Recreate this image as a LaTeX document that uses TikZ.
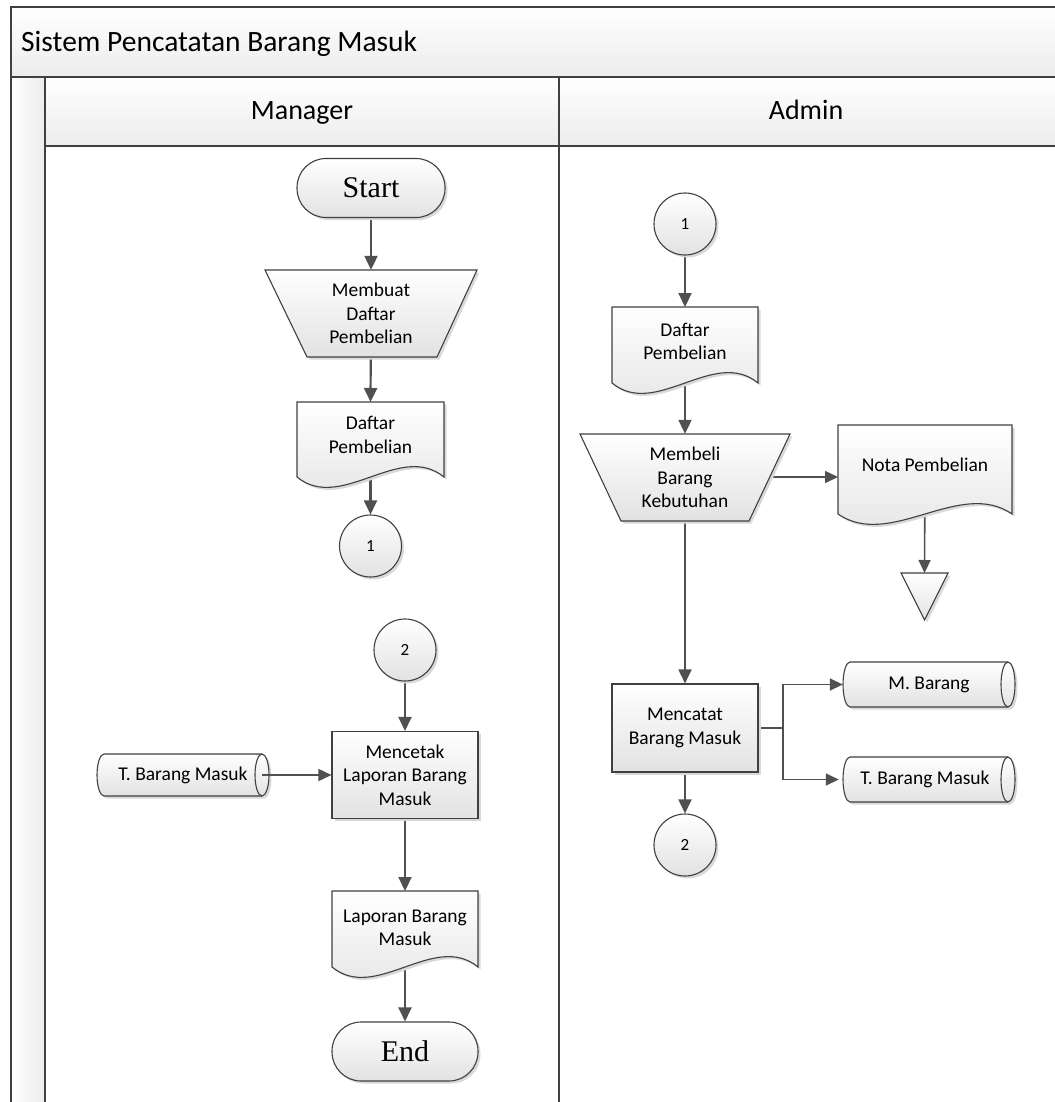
\documentclass[tikz,border=0pt]{standalone}
\usepackage{fontspec}
\setmainfont{Carlito}
\newfontfamily\termfont{Liberation Serif}
\usetikzlibrary{arrows.meta,calc,shadows}
\definecolor{lnc}{RGB}{64,64,64}
\definecolor{arc}{RGB}{80,80,80}
\definecolor{shd}{RGB}{226,226,226}
\definecolor{bandc}{RGB}{236,236,236}
\pgfdeclarelayer{poollayer}
\pgfdeclarelayer{edgelayer}
\pgfsetlayers{poollayer,edgelayer,main}
\tikzset{
  lbl/.style={font=\fontsize{19.5}{23.5}\selectfont, align=center, inner sep=0pt, text=black},
  outl/.style={draw=lnc, line width=1.1pt, top color=white, bottom color=shd,
     drop shadow={shadow xshift=2.5pt, shadow yshift=-2.5pt, fill=black!15, opacity=1}},
  flow/.style={draw=arc, line width=2.2pt, -{Triangle[length=14pt,width=13pt]}},
  thinflow/.style={draw=arc, line width=1.6pt, -{Triangle[length=13pt,width=12pt]}},
  plain/.style={draw=arc, line width=1.6pt},
  pool/.style={draw=lnc, line width=1.8pt},
  band/.style={top color=white, bottom color=bandc},
  hdr/.style={font=\fontsize{28}{32}\selectfont, inner sep=0pt, anchor=base},
  conn/.style={circle, minimum size=62pt, inner sep=0pt, outl, font=\fontsize{17}{20}\selectfont},
  term/.style={rectangle, rounded corners=29pt, minimum width=148pt, minimum height=59pt, outl,
     font=\termfont\fontsize{30}{34}\selectfont},
  proc/.style={rectangle, minimum width=146pt, minimum height=87pt, outl, lbl},
  tbox/.style={rectangle, lbl, minimum width=#1},
}
\newcommand\docshape[4]{%
  \path[outl] (#1,#3) -- (#2,#3) -- (#2,#4)
    .. controls ({#2-0.3*(#2-#1)},{#4-36}) and ({#1+0.3*(#2-#1)},{#4+36}) .. (#1,#4) -- cycle;}
\newcommand\trapshape[6]{% xtl xtr ytop xbl xbr ybot
  \path[outl] (#1,#3) -- (#2,#3) -- (#5,#6) -- (#4,#6) -- cycle;}
\newcommand\cylshape[4]{% x1 x2 y1 y2
  \path[outl] (#1+7,#3) -- (#2-7,#3)
     arc[start angle=-90,end angle=90,x radius=7,y radius={(#4-#3)/2}]
     -- (#1+7,#4)
     arc[start angle=90,end angle=270,x radius=7,y radius={(#4-#3)/2}] -- cycle;
  \draw[draw=lnc, line width=1.1pt] (#2-7,#3)
     arc[start angle=-90,end angle=-270,x radius=7,y radius={(#4-#3)/2}];}
\begin{document}
\begin{tikzpicture}[x=1pt,y=-1pt]
\useasboundingbox (0,0) rectangle (1054,1102);
% ---------------- pool and lanes
\begin{pgfonlayer}{poollayer}
  \path[band] (11,7) rectangle (1070,77);
  \path[band] (45,77) rectangle (1070,146);
  \path[left color=white, right color=bandc] (11,77) rectangle (45,1110);
  \draw[pool] (1070,7) -- (11,7) -- (11,1110);
  \draw[pool] (11,77) -- (1070,77);
  \draw[pool] (45,77) -- (45,1110);
  \draw[pool] (45,146) -- (1070,146);
  \draw[pool] (559,77) -- (559,1110);
\end{pgfonlayer}
\node[hdr, anchor=base west, font=\fontsize{29.5}{33}\selectfont] (title) at (21,52) {Sistem Pencatatan Barang Masuk};
\node[hdr] (lmgr) at (302,120) {Manager};
\node[hdr] (ladm) at (806,120) {Admin};

% ---------------- Manager lane
\node[term] (start) at (371,188) {Start};
\trapshape{265}{477}{270}{307}{437}{357}
\node[tbox=130pt, minimum height=87pt] (mdp) at (371,313.5) {Membuat\\Daftar\\Pembelian};
\docshape{297}{444}{402}{477}
\node[lbl] (dp1) at (370.5,435) {Daftar\\Pembelian};
\coordinate (dp1top) at (370.5,402);
\node[conn] (c1) at (370.5,546) {1};

\node[conn] (c2) at (405,650) {2};
\node[proc] (p1) at (405,775) {Mencetak\\Laporan Barang\\Masuk};
\cylshape{97}{269}{754}{796}
\node[tbox=172pt, minimum height=42pt] (tbm1) at (183,775) {T. Barang Masuk};
\docshape{332}{478}{891}{967}
\node[lbl] (dp2) at (405,928) {Laporan Barang\\Masuk};
\coordinate (dp2top) at (405,891);
\node[term, minimum width=146pt] (endn) at (405,1051.5) {End};

% ---------------- Admin lane
\node[conn] (a1) at (685,224) {1};
\docshape{612}{758}{307}{383}
\node[lbl] (dp3) at (685,341.5) {Daftar\\Pembelian};
\coordinate (dp3top) at (685,307);
\trapshape{580}{790}{434}{621}{749}{521}
\node[tbox=127pt, minimum height=87pt] (mbk) at (685,477.5) {Membeli\\Barang\\Kebutuhan};
\docshape{838}{1012}{425}{514}
\node[lbl] (nota) at (925,465) {Nota Pembelian};
\coordinate (notain) at (838,477);
\path[outl] (901,573) -- (948,573) -- (924.5,620) -- cycle;
\coordinate (tritop) at (924.5,573);
\node[proc, minimum height=88pt] (p2) at (685,728) {Mencatat\\Barang Masuk};
\cylshape{843}{1015}{662}{707}
\node[tbox=172pt, minimum height=45pt] (mb) at (929,684.5) {M. Barang};
\cylshape{843}{1015}{757}{802}
\node[tbox=172pt, minimum height=45pt] (tb2) at (925,779.5) {T. Barang Masuk};
\node[conn] (a2) at (685,845) {2};
\coordinate (br) at (783,728);

% ---------------- connectors
\begin{pgfonlayer}{edgelayer}
  \draw[flow] (start) -- (mdp);
  \draw[flow] (mdp) -- (dp1top);
  \draw[flow] (dp1) -- (c1);
  \draw[flow] (c2) -- (p1);
  \draw[flow] (p1) -- (dp2top);
  \draw[flow] (dp2) -- (endn);
  \draw[flow] (a1) -- (dp3top);
  \draw[flow] (dp3) -- (mbk);
  \draw[thinflow] (mbk.east |- notain) -- (notain);
  \draw[thinflow] (nota) -- (tritop);
  \draw[flow, line width=1.8pt] (mbk) -- (p2);
  \draw[plain] (p2.east) -- (br);
  \draw[thinflow] (br) |- (mb.west);
  \draw[thinflow] (br) |- (tb2.west);
  \draw[flow, line width=1.8pt] (p2) -- (a2);
\end{pgfonlayer}
\draw[thinflow] ($(tbm1.east)+(-7,0)$) -- (p1.west |- tbm1.east);
\end{tikzpicture}
\end{document}
